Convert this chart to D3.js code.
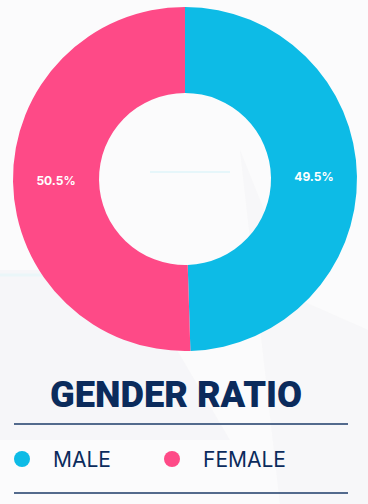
<!DOCTYPE html>
<html>
<head>
<meta charset="utf-8">
<script src="https://cdn.jsdelivr.net/npm/d3@7"></script>
<style>
  body { margin: 0; background: #fbfbfc; }
  svg { display: block; }
</style>
</head>
<body>
<svg class="chart" width="368" height="504"></svg>
<script>
// chart data
var categories = ["MALE", "FEMALE"];
var values = [49.5, 50.5];
var colors = ["#0dbbe6", "#fe4a87"];
var title = "GENDER RATIO";

var svg = d3.select(".chart");
var width = +svg.attr("width"),
    height = +svg.attr("height");

// faint background shapes
var bg = svg.append("g");
bg.append("rect").attr("width", width).attr("height", height).attr("fill", "#fbfbfc");
bg.append("path")
  .attr("d", "M0,270 L130,270 L230,440 L0,440 Z")
  .attr("fill", "#f3f4f6").attr("opacity", 0.6);
bg.append("path")
  .attr("d", "M240,150 L300,300 L368,330 L368,504 L280,504 Z")
  .attr("fill", "#f3f4f6").attr("opacity", 0.5);
bg.append("line")
  .attr("x1", 0).attr("x2", 120).attr("y1", 275).attr("y2", 275)
  .attr("stroke", "#eaf6f9").attr("stroke-width", 3);
bg.append("line")
  .attr("x1", 150).attr("x2", 230).attr("y1", 172).attr("y2", 172)
  .attr("stroke", "#e6f6fa").attr("stroke-width", 2);

// donut
var cx = 185, cy = 179, outerR = 172, innerR = 86;

var pie = d3.pie().sort(null).value(function(d) { return d; });
var arc = d3.arc().innerRadius(innerR).outerRadius(outerR);
var labelArc = d3.arc().innerRadius((innerR + outerR) / 2).outerRadius((innerR + outerR) / 2);

var g = svg.append("g").attr("transform", "translate(" + cx + "," + cy + ")");
var slices = pie(values);

g.selectAll(".slice")
  .data(slices)
  .enter().append("path")
  .attr("class", "slice")
  .attr("d", arc)
  .attr("fill", function(d, i) { return colors[i]; });

g.selectAll(".pct")
  .data(slices)
  .enter().append("text")
  .attr("class", "pct")
  .attr("x", function(d) { return labelArc.centroid(d)[0]; })
  .attr("y", function(d) { return labelArc.centroid(d)[1] + 4; })
  .attr("text-anchor", "middle")
  .attr("fill", "#fff")
  .attr("font-family", "Inter, 'Open Sans', sans-serif")
  .attr("font-weight", 700)
  .attr("font-size", 12)
  .text(function(d) { return d.data.toFixed(1) + "%"; });

// title
svg.append("text")
  .attr("x", 176)
  .attr("y", 407)
  .attr("text-anchor", "middle")
  .attr("fill", "#0b2b5c")
  .attr("font-family", "Roboto, Inter, sans-serif")
  .attr("font-weight", 900)
  .attr("font-size", 37)
  .attr("textLength", 252)
  .attr("lengthAdjust", "spacingAndGlyphs")
  .text(title);

// divider lines
svg.selectAll(".rule")
  .data([424, 493])
  .enter().append("line")
  .attr("class", "rule")
  .attr("x1", 14).attr("x2", 348)
  .attr("y1", function(d) { return d; })
  .attr("y2", function(d) { return d; })
  .attr("stroke", "#1d3b68")
  .attr("stroke-width", 1.5);

// legend
var legendX = d3.scalePoint().domain(categories).range([22, 172]);
var legend = svg.selectAll(".legend")
  .data(categories)
  .enter().append("g")
  .attr("class", "legend")
  .attr("transform", function(d) { return "translate(" + legendX(d) + ",459)"; });

legend.append("circle")
  .attr("r", 8)
  .attr("fill", function(d, i) { return colors[i]; });

legend.append("text")
  .attr("x", 31)
  .attr("y", 8)
  .attr("fill", "#0b2b5c")
  .attr("font-family", "Inter, Roboto, sans-serif")
  .attr("font-size", 21)
  .text(function(d) { return d; });
</script>
</body>
</html>
